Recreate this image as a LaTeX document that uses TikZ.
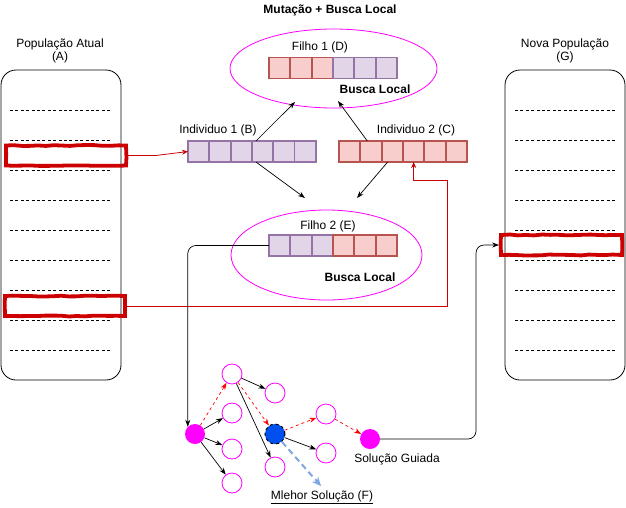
\documentclass[tikz,border=0pt]{standalone}
\usepackage{fontspec}
\setmainfont{Liberation Sans}
\usetikzlibrary{arrows.meta, positioning, shapes.geometric, decorations.pathmorphing}
\definecolor{purpfill}{HTML}{E1D5E7}
\definecolor{purpline}{HTML}{9673A6}
\definecolor{redfill}{HTML}{F8CECC}
\definecolor{redline}{HTML}{B85450}
\definecolor{selred}{HTML}{CC0000}
\definecolor{magline}{HTML}{FF00FF}
\definecolor{bestblue}{HTML}{0050EF}
\definecolor{hintblue}{HTML}{7EA6E0}

\begin{document}
\begin{tikzpicture}[
    x=1pt, y=-1pt,
    font=\fontsize{12}{13}\selectfont,
    popbox/.style={rectangle, draw, line width=0.8pt, rounded corners=15pt,
                minimum width=120pt, minimum height=310pt},
    sepline/.style={line width=0.6pt, dash pattern=on 3pt off 2.4pt},
    selbox/.style={rectangle, draw=selred, line width=3.8pt, minimum height=20pt,
                decorate, decoration={random steps, segment length=8pt, amplitude=0.5pt}},
    cellP/.style={rectangle, draw=purpline, fill=purpfill, line width=1.7pt,
                minimum width=21.33pt, minimum height=21pt, inner sep=0pt, outer sep=0pt},
    cellR/.style={cellP, draw=redline, fill=redfill},
    lsbox/.style={ellipse, draw=magline, line width=0.8pt},
    gene/.style={circle, draw=magline, line width=0.8pt, minimum size=20pt, inner sep=0pt},
    guia/.style={circle, fill=magline, minimum size=20pt, inner sep=0pt},
    bestnode/.style={circle, draw, dashed, line width=1pt, fill=bestblue, minimum size=20pt, inner sep=0pt},
    arrow/.style={-{Stealth[length=7pt, width=5pt]}, line width=0.7pt},
    redarrow/.style={-{Stealth[length=6pt, width=5pt]}, line width=0.8pt, selred},
    searcharrow/.style={arrow, red, dashed},
    bold/.style={font=\fontsize{12}{13}\selectfont\bfseries}
]
\useasboundingbox (0,0) rectangle (626,507);

\node[bold] (titulo) at (330,10) {Mutação + Busca Local};

% Populacao atual
\node[align=center] (labA) at (60,51) {População Atual\\(A)};
\node[popbox] (popA) at (61,225) {};
\foreach \y in {110,140,...,350}
    \draw[sepline] (10,\y) -- (110,\y);
\node[selbox, minimum width=120pt] (selA1) at (66,155.5) {};
\node[selbox, minimum width=120pt] (selA2) at (65,306) {};

% Nova populacao
\node[align=center] (labG) at (565,51) {Nova População\\(G)};
\node[popbox] (popG) at (565,225) {};
\foreach \y in {110,140,...,350}
    \draw[sepline] (515,\y) -- (615,\y);
\node[selbox, minimum width=121pt] (selG) at (561.5,245) {};

% Pais
\node (labB) at (218,130) {Individuo 1 (B)};
\foreach \i in {1,...,6}
    \node[cellP] (b\i) at ({177.33+21.33*\i},151.5) {};
\node (labC) at (416,130) {Individuo 2 (C)};
\foreach \i in {1,...,6}
    \node[cellR] (c\i) at ({328.33+21.33*\i},151.5) {};

% Filho 1
\node[lsbox, minimum width=207pt, minimum height=79pt] (filhoD) at (333.5,68.5) {};
\node (labD) at (320,47) {Filho 1 (D)};
\foreach \i in {1,2,3}
    \node[cellR] (d\i) at ({258.33+21.33*\i},68) {};
\foreach \i in {4,5,6}
    \node[cellP] (d\i) at ({258.33+21.33*\i},68) {};
\node[bold] (blD) at (375,89) {Busca Local};

% Filho 2
\node[lsbox, minimum width=191pt, minimum height=90pt] (filhoE) at (326.5,255) {};
\node (labE) at (328,226) {Filho 2 (E)};
\foreach \i in {1,2,3}
    \node[cellP] (e\i) at ({258.33+21.33*\i},245.5) {};
\foreach \i in {4,5,6}
    \node[cellR] (e\i) at ({258.33+21.33*\i},245.5) {};
\node[bold] (blE) at (360,277) {Busca Local};

\coordinate (dIn1) at (295,102);
\coordinate (dIn2) at (338,101);
\coordinate (eIn1) at (305,198);
\coordinate (eIn2) at (357,198);
\draw[arrow] (b4.north west) ++(4,0) -- (dIn1);
\draw[arrow] (c2.north west) ++(7,0) -- (dIn2);
\draw[arrow] (b4.south west) ++(4,0) -- (eIn1);
\draw[arrow] (c3.south west) ++(6,0) -- (eIn2);

\draw[redarrow] (selA1.east) -- ++(28,0) -- (b1.west);
\coordinate (turnC) at (447,180);
\draw[redarrow] (selA2.east) -| (turnC) -| (c4.south);

% Busca local guiada
\node[guia] (ini) at (195,434) {};
\node[gene] (n1) at (232,374) {};
\node[gene] (n2) at (232,413) {};
\node[gene] (n3) at (232,449) {};
\node[gene] (n4) at (232,483) {};
\node[gene] (n5) at (275,393) {};
\node[bestnode] (best) at (275,434) {};
\node[gene] (n6) at (275,467) {};
\node[gene] (n7) at (326,414) {};
\node[gene] (n8) at (326,453) {};
\node[guia] (fim) at (370,439) {};
\node (labFim) at (397,459) {Solução Guiada};
\node (labF) at (322,497) {\underline{Mlehor Solução (F)}};

\draw[searcharrow] (ini) -- (n1);
\draw[arrow] (ini) -- (n2);
\draw[arrow] (ini) -- (n3);
\draw[arrow] (ini) -- (n4);
\draw[arrow] (n1) -- (n5);
\draw[searcharrow] (n1) -- (best);
\draw[arrow] (n1) -- (n6);
\draw[searcharrow] (best) -- (n7);
\draw[arrow] (best) -- (n8);
\draw[searcharrow] (n7) -- (fim);
\coordinate (hintEnd) at (321,486);
\draw[-{Stealth[length=9pt, width=8pt]}, hintblue, line width=2pt, dash pattern=on 6pt off 4pt] (best) -- (hintEnd);

\draw[arrow, rounded corners=8pt] (e1.west) -| (ini.north west);
\coordinate (turnG) at (476,245);
\draw[arrow, rounded corners=8pt] (fim.east) -| (turnG) -- (selG.west);

\end{tikzpicture}
\end{document}
